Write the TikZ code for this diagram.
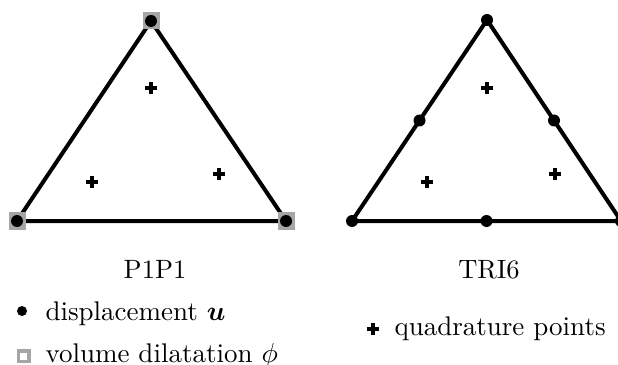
\documentclass[tikz,border=0pt]{standalone}
\usepackage{amsmath,bm}
\usetikzlibrary{calc}
\begin{document}
\begin{tikzpicture}[x=0.4pt,y=-0.4pt,
  edge/.style={line width=1.6pt,line cap=round,line join=round},
  dispnode/.style={circle,fill=black,inner sep=0pt,minimum size=4.8pt},
  volnode/.style={rectangle,fill=gray!70,inner sep=0pt,minimum size=6.8pt},
  quad/.style={inner sep=0pt,minimum size=4.8pt,
    path picture={\draw[line width=1.3pt] (path picture bounding box.west) -- (path picture bounding box.east)
      (path picture bounding box.north) -- (path picture bounding box.south);}},
  lbl/.style={anchor=base,inner sep=0pt,font=\fontsize{10.6pt}{13pt}\selectfont},
  legtext/.style={anchor=base west,inner sep=0pt,font=\fontsize{10.8pt}{13pt}\selectfont}
]
\useasboundingbox (0,0) rectangle (618,365);
% left triangle P1P1
\coordinate (a1) at (17,221);
\coordinate (a2) at (286,221);
\coordinate (a3) at (151,21);
\draw[edge] (a1) -- (a2) -- (a3) -- cycle;
\foreach \p in {a1,a2,a3} {
  \node[volnode] at (\p) {};
  \node[dispnode] at (\p) {};
}
\node[quad] (q1) at (151,88) {};
\node[quad] (q2) at (92,182) {};
\node[quad] (q3) at (219,174) {};
% right triangle TRI6
\coordinate (b1) at (352,221);
\coordinate (b2) at (621,221);
\coordinate (b3) at (487,20);
\draw[edge] (b1) -- (b2) -- (b3) -- cycle;
\node[dispnode] (n1) at (b1) {};
\node[dispnode] (n2) at (b2) {};
\node[dispnode] (n3) at (b3) {};
\node[dispnode] (m1) at ($(b1)!0.5!(b2)$) {};
\node[dispnode] (m2) at ($(b2)!0.5!(b3)$) {};
\node[dispnode] (m3) at ($(b3)!0.5!(b1)$) {};
\node[quad] (q4) at (487,88) {};
\node[quad] (q5) at (427,182) {};
\node[quad] (q6) at (555,174) {};
% labels
\node[lbl] (l1) at (155,278) {P1P1};
\node[lbl] (l2) at (489,278) {TRI6};
% legend
\node[circle,fill=black,inner sep=0pt,minimum size=4pt] (k1) at (22,311) {};
\node[legtext] (t1) at (45,320) {displacement $\bm{u}$};
\node[draw=gray!70,line width=1.4pt,inner sep=0pt,minimum size=4.2pt] (k2) at (23.5,356) {};
\node[legtext] (t2) at (45,362) {volume dilatation $\phi$};
\node[quad] (k3) at (373,329) {};
\node[legtext] (t3) at (394,335) {quadrature points};
\end{tikzpicture}
\end{document}
